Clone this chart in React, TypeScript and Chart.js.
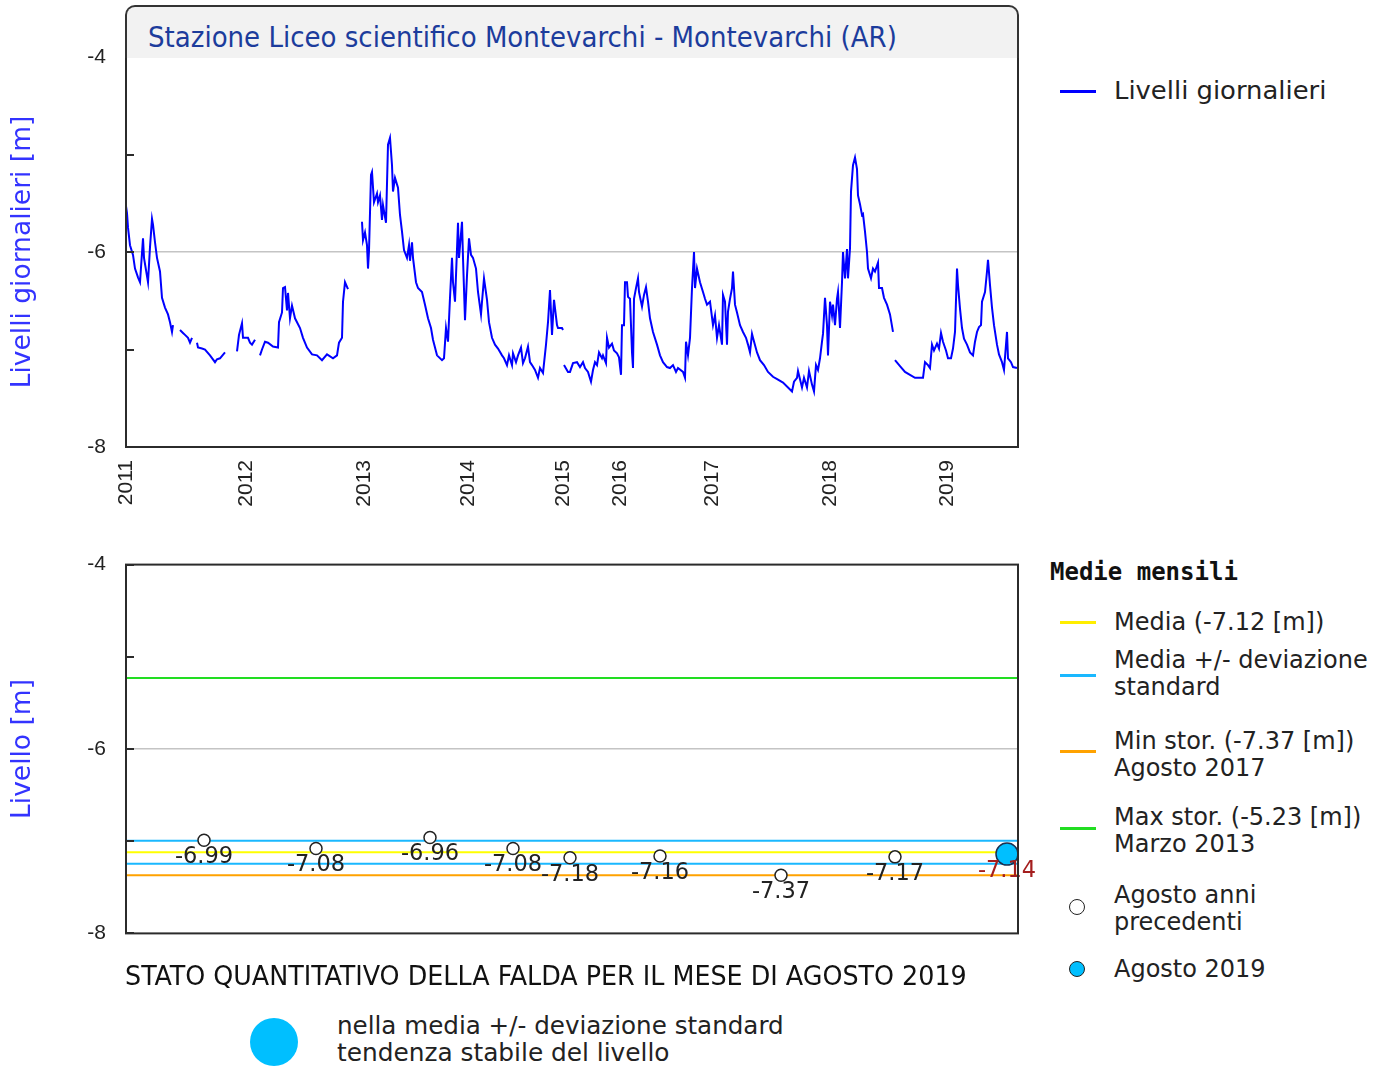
import React, { useEffect, useLayoutEffect, useRef, useState } from 'react';
import { Chart, registerables } from 'chart.js';

Chart.register(...registerables);

type Pair = [number, number];

// ---------- DATA ----------
const stationTitle = 'Stazione Liceo scientifico Montevarchi - Montevarchi (AR)';
const captionTitle = 'STATO QUANTITATIVO DELLA FALDA PER IL MESE DI AGOSTO 2019';
const statusLine1 = 'nella media +/- deviazione standard';
const statusLine2 = 'tendenza stabile del livello';

const yearLabels = ['2011', '2012', '2013', '2014', '2015', '2016', '2017', '2018', '2019'];
const yearTickIndex = [0, 120, 238, 342, 437, 494, 586, 704, 821];
const levelTicks = [-8, -7, -6, -5, -4];
const levelMin = -8;
const levelMax = -4;
const indexMax = 892;

// daily levels: [sample index, level m]
const run2011a: Pair[] = [[0,-5.53],[1,-5.60],[2,-5.75],[4,-5.93],[7,-6.03],[9,-6.17],[12,-6.26],[14,-6.31],[17,-5.86],[18,-6.06],[22,-6.31],[24,-5.95],[26,-5.66],[27,-5.72],[29,-5.90],[31,-6.06],[34,-6.20],[36,-6.47],[39,-6.57],[42,-6.64],[44,-6.72],[46,-6.82],[47,-6.75]];
const run2011b: Pair[] = [[54,-6.80],[57,-6.83],[59,-6.85],[62,-6.88],[64,-6.93],[66,-6.88]];
const run2011c: Pair[] = [[71,-6.93],[72,-6.98],[76,-6.99],[79,-7.00],[84,-7.06],[89,-7.13],[91,-7.10],[94,-7.09],[99,-7.03]];
const run2012a: Pair[] = [[111,-7.02],[113,-6.85],[116,-6.73],[117,-6.88],[122,-6.88],[124,-6.93],[126,-6.95],[129,-6.90]];
const run2012b: Pair[] = [[134,-7.06],[136,-7.00],[139,-6.92],[142,-6.93],[147,-6.97],[152,-6.98],[153,-6.72],[156,-6.62],[157,-6.37],[159,-6.36],[161,-6.60],[162,-6.42],[164,-6.68],[166,-6.55],[169,-6.68],[174,-6.78],[177,-6.88],[181,-6.98],[186,-7.05],[191,-7.06],[196,-7.11],[201,-7.05],[207,-7.09],[211,-7.06],[213,-6.93],[216,-6.88],[217,-6.51],[219,-6.31],[222,-6.38]];
const run2013: Pair[] = [[236,-5.69],[237,-5.88],[239,-5.80],[241,-5.93],[242,-6.17],[243,-5.99],[245,-5.21],[246,-5.18],[248,-5.49],[251,-5.40],[252,-5.49],[254,-5.42],[256,-5.67],[257,-5.52],[260,-5.70],[262,-4.90],[264,-4.83],[266,-5.11],[267,-5.38],[269,-5.24],[272,-5.34],[274,-5.62],[276,-5.79],[278,-5.98],[281,-6.06],[283,-5.93],[284,-6.09],[286,-5.90],[287,-6.06],[290,-6.31],[292,-6.37],[296,-6.41],[299,-6.54],[302,-6.68],[305,-6.78],[307,-6.90],[311,-7.06],[316,-7.11],[318,-7.09],[320,-6.78],[322,-6.92],[324,-6.47],[326,-6.06],[327,-6.31],[329,-6.51]];
const run2014: Pair[] = [[332,-5.70],[333,-6.06],[336,-5.69],[337,-6.06],[339,-6.70],[341,-6.24],[343,-5.86],[345,-6.03],[347,-6.06],[350,-6.17],[352,-6.41],[355,-6.64],[356,-6.51],[358,-6.27],[361,-6.49],[363,-6.72],[366,-6.88],[369,-6.95],[372,-6.99],[376,-7.06],[378,-7.09],[381,-7.16],[383,-7.06],[386,-7.16],[387,-7.04],[390,-7.13],[392,-7.06],[395,-6.98],[397,-7.14],[399,-7.09],[402,-6.97],[404,-7.13],[406,-7.16],[409,-7.21],[412,-7.29],[414,-7.19],[417,-7.24],[420,-6.95],[422,-6.72],[424,-6.39],[426,-6.85],[428,-6.49],[431,-6.75],[432,-6.78],[436,-6.78],[437,-6.80]];
const run2015: Pair[] = [[438,-7.16],[442,-7.23],[444,-7.23],[447,-7.14],[451,-7.13],[454,-7.18],[457,-7.13],[459,-7.19],[462,-7.23],[465,-7.33],[467,-7.21],[469,-7.13],[471,-7.16],[473,-7.03],[476,-7.09],[477,-7.06],[480,-7.14],[481,-6.88],[483,-6.98],[486,-6.94],[488,-7.01],[491,-7.04],[493,-7.08]];
const run2016: Pair[] = [[495,-7.26],[496,-6.75],[498,-6.75],[499,-6.31],[501,-6.31],[502,-6.46],[504,-6.48],[506,-7.03],[507,-7.19],[508,-6.48],[510,-6.37],[512,-6.27],[513,-6.41],[516,-6.56],[518,-6.44],[520,-6.36],[522,-6.51],[524,-6.68],[527,-6.82],[531,-6.95],[534,-7.06],[537,-7.13],[541,-7.18],[544,-7.19],[547,-7.16],[550,-7.23],[552,-7.19],[557,-7.23],[559,-7.29]];
const run2017: Pair[] = [[560,-6.92],[562,-7.06],[564,-6.88],[566,-6.37],[568,-6.00],[569,-6.37],[571,-6.17],[574,-6.31],[577,-6.41],[579,-6.48],[581,-6.54],[584,-6.51],[587,-6.75],[589,-6.65],[591,-6.88],[593,-6.75],[596,-6.95],[597,-6.44],[599,-6.51],[601,-6.95],[602,-6.61],[604,-6.48],[606,-6.37],[607,-6.20],[609,-6.54],[611,-6.62],[614,-6.75],[617,-6.82],[620,-6.88],[622,-6.95],[624,-7.03],[626,-6.84],[627,-6.88],[631,-7.03],[634,-7.11],[638,-7.16],[642,-7.23],[647,-7.28],[652,-7.31],[657,-7.34],[662,-7.39],[666,-7.43],[668,-7.33],[671,-7.29],[672,-7.22],[676,-7.39],[678,-7.29],[681,-7.39],[683,-7.22],[686,-7.36],[688,-7.43]];
const run2018: Pair[] = [[690,-7.16],[692,-7.21],[694,-7.09],[696,-6.92],[697,-6.84],[699,-6.47],[701,-6.75],[702,-7.06],[704,-6.51],[706,-6.65],[707,-6.54],[709,-6.75],[711,-6.48],[712,-6.41],[714,-6.78],[716,-6.31],[717,-6.00],[719,-6.27],[721,-5.97],[722,-6.27],[724,-5.96],[725,-5.38],[727,-5.11],[729,-5.03],[731,-5.15],[732,-5.42],[734,-5.51],[736,-5.62],[737,-5.61],[739,-5.79],[741,-6.00],[742,-6.17],[745,-6.27],[747,-6.17],[749,-6.20],[752,-6.11],[753,-6.37],[756,-6.37],[758,-6.47],[761,-6.54],[764,-6.64],[767,-6.82]];
const run2019: Pair[] = [[769,-7.11],[774,-7.17],[779,-7.23],[784,-7.26],[789,-7.29],[797,-7.29],[799,-7.13],[802,-7.16],[804,-7.19],[806,-6.95],[808,-7.01],[811,-6.94],[813,-6.99],[815,-6.83],[817,-6.92],[820,-7.01],[822,-7.09],[825,-7.09],[827,-6.99],[829,-6.82],[831,-6.17],[832,-6.34],[834,-6.58],[836,-6.78],[838,-6.89],[841,-6.95],[844,-7.03],[847,-7.06],[849,-6.92],[851,-6.82],[853,-6.77],[855,-6.75],[856,-6.51],[859,-6.41],[861,-6.20],[862,-6.08],[864,-6.34],[866,-6.57],[868,-6.75],[871,-6.95],[873,-7.05],[876,-7.13],[878,-7.21],[881,-6.82],[882,-7.09],[885,-7.13],[887,-7.18],[891,-7.19]];

// continuous runs (gaps between them)
const dailyRuns: Pair[][][] = [
  [run2011a], [run2011b], [run2011c], [run2012a], [run2012b],
  [run2013, run2014], [run2015, run2016, run2017, run2018], [run2019],
];

// monthly (August) statistics
const prevAugustIndex = [78, 190, 304, 387, 444, 534, 655, 769];
const prevAugustLevel = [-6.99, -7.08, -6.96, -7.08, -7.18, -7.16, -7.37, -7.17];
const currentAugustIndex = [881];
const currentAugustLevel = [-7.14];
const meanLevel = -7.12;
const stdDevLevel = 0.125;
const minLevel = -7.37;
const maxLevel = -5.23;

// ---------- HELPERS ----------
function buildDailySeries() {
  const out: { x: number; y: number | null }[] = [];
  dailyRuns.forEach((parts, ri) => {
    const pts = ([] as Pair[]).concat(...parts);
    if (ri > 0 && out.length) {
      const lastX = out[out.length - 1].x;
      out.push({ x: (lastX + pts[0][0]) / 2, y: null });
    }
    pts.forEach(([x, y]) => out.push({ x, y }));
  });
  return out;
}

const tickFont = { family: '"Liberation Sans", Arial, sans-serif', size: 21 };
const axisTitleFont = { family: '"DejaVu Sans", Verdana, sans-serif', size: 26.5 };

const framePlugin = {
  id: 'frameTicks',
  afterDraw(chart: any) {
    const { ctx, chartArea: a, scales } = chart;
    const ys = scales.y;
    ctx.save();
    ctx.strokeStyle = '#2b2b2b';
    ctx.lineWidth = 2;
    ctx.strokeRect(a.left, a.top, a.right - a.left, a.bottom - a.top);
    levelTicks.forEach((v) => {
      const py = Math.round(ys.getPixelForValue(v));
      ctx.beginPath();
      ctx.moveTo(a.left, py);
      ctx.lineTo(a.left + 8, py);
      ctx.stroke();
    });
    ctx.restore();
  },
};

const pointLabelPlugin = {
  id: 'pointLabels',
  afterDatasetsDraw(chart: any) {
    const { ctx } = chart;
    ctx.save();
    ctx.font = '22.5px "DejaVu Sans", Verdana, sans-serif';
    ctx.textAlign = 'center';
    ctx.textBaseline = 'middle';
    chart.data.datasets.forEach((ds: any, di: number) => {
      if (!ds.labelColor) return;
      const meta = chart.getDatasetMeta(di);
      meta.data.forEach((el: any, i: number) => {
        ctx.fillStyle = ds.labelColor;
        ctx.fillText(ds.data[i].y.toFixed(2), el.x, el.y + 17);
      });
    });
    ctx.restore();
  },
};

function yScale(title: string) {
  return {
    type: 'linear' as const,
    min: levelMin,
    max: levelMax,
    afterBuildTicks: (s: any) => {
      s.ticks = levelTicks.map((v) => ({ value: v }));
    },
    afterFit: (s: any) => {
      s.width = 126;
    },
    grid: {
      color: (c: any) => (c.tick && c.tick.value === -6 ? '#c4c4c4' : 'rgba(0,0,0,0)'),
      lineWidth: 1.5,
      drawTicks: false,
    },
    border: { display: false },
    ticks: {
      padding: 20,
      color: '#222',
      font: tickFont,
      callback: (v: any) => (Number(v) % 2 === 0 ? String(v) : ''),
    },
    title: {
      display: true,
      text: title,
      color: '#3333ff',
      font: axisTitleFont,
      padding: { top: 7, bottom: 0 },
    },
  };
}

function TopChart() {
  const ref = useRef<HTMLCanvasElement>(null);
  useEffect(() => {
    const chart = new Chart(ref.current as HTMLCanvasElement, {
      type: 'line',
      data: {
        datasets: [
          {
            label: 'Livelli giornalieri',
            data: buildDailySeries() as any,
            borderColor: '#0000ff',
            borderWidth: 2,
            pointRadius: 0,
            spanGaps: false,
            tension: 0,
          },
        ],
      },
      options: {
        animation: false,
        responsive: false,
        devicePixelRatio: 1,
        layout: { padding: { left: 0, top: 57, right: 22, bottom: 3 } },
        plugins: { legend: { display: false }, tooltip: { enabled: false } },
        scales: {
          x: {
            type: 'linear',
            min: 0,
            max: indexMax,
            afterBuildTicks: (s: any) => {
              s.ticks = yearTickIndex.map((v) => ({ value: v }));
            },
            afterFit: (s: any) => {
              s.height = 80;
            },
            grid: { display: false },
            border: { display: false },
            ticks: {
              autoSkip: false,
              minRotation: 90,
              maxRotation: 90,
              padding: 5,
              color: '#222',
              font: tickFont,
              callback: (_v: any, i: number) => yearLabels[i],
            },
          },
          y: yScale('Livelli giornalieri [m]') as any,
        },
      },
      plugins: [framePlugin],
    });
    return () => chart.destroy();
  }, []);
  return <canvas ref={ref} width={1040} height={530} style={{ position: 'absolute', left: 0, top: 0 }} />;
}

function hline(level: number, color: string) {
  return {
    type: 'line' as const,
    data: [
      { x: 0, y: level },
      { x: indexMax, y: level },
    ],
    borderColor: color,
    borderWidth: 2,
    pointRadius: 0,
    order: 2,
  };
}

function BottomChart() {
  const ref = useRef<HTMLCanvasElement>(null);
  useEffect(() => {
    const chart = new Chart(ref.current as HTMLCanvasElement, {
      type: 'line',
      data: {
        datasets: [
          {
            data: currentAugustIndex.map((x, i) => ({ x, y: currentAugustLevel[i] })),
            showLine: false,
            pointRadius: 11,
            pointBackgroundColor: '#00bfff',
            pointBorderColor: '#1b3050',
            pointBorderWidth: 1.5,
            clip: false,
            order: 0,
            labelColor: '#a41e1e',
          } as any,
          {
            data: prevAugustIndex.map((x, i) => ({ x, y: prevAugustLevel[i] })),
            showLine: false,
            pointRadius: 6,
            pointBackgroundColor: '#ffffff',
            pointBorderColor: '#222',
            pointBorderWidth: 1.5,
            clip: false,
            order: 1,
            labelColor: '#222',
          } as any,
          hline(maxLevel, '#22dd22'),
          hline(meanLevel + stdDevLevel, '#1ab8ff'),
          hline(meanLevel, '#ffff00'),
          hline(meanLevel - stdDevLevel, '#1ab8ff'),
          hline(minLevel, '#ffa200'),
        ],
      },
      options: {
        animation: false,
        responsive: false,
        devicePixelRatio: 1,
        layout: { padding: { left: 0, top: 32, right: 22, bottom: 32 } },
        plugins: { legend: { display: false }, tooltip: { enabled: false } },
        scales: {
          x: { type: 'linear', min: 0, max: indexMax, display: false },
          y: yScale('Livello [m]') as any,
        },
      },
      plugins: [pointLabelPlugin, framePlugin],
    });
    return () => chart.destroy();
  }, []);
  return <canvas ref={ref} width={1040} height={434} style={{ position: 'absolute', left: 0, top: 532 }} />;
}

function FitText(props: {
  text: string;
  width: number;
  left: number;
  top: number;
  height: number;
  size: number;
  family: string;
  color: string;
}) {
  const ref = useRef<HTMLSpanElement>(null);
  const [sx, setSx] = useState(1);
  useLayoutEffect(() => {
    const el = ref.current;
    if (el && el.offsetWidth > 0) setSx(props.width / el.offsetWidth);
  }, [props.text, props.width]);
  return (
    <div
      style={{
        position: 'absolute',
        left: props.left,
        top: props.top,
        height: props.height,
        lineHeight: `${props.height}px`,
        whiteSpace: 'nowrap',
      }}
    >
      <span
        ref={ref}
        style={{
          display: 'inline-block',
          fontFamily: props.family,
          fontSize: props.size,
          color: props.color,
          transform: `scaleX(${sx})`,
          transformOrigin: '0 50%',
        }}
      >
        {props.text}
      </span>
    </div>
  );
}

const legendFamily = '"DejaVu Sans", Verdana, sans-serif';
const narrowFamily = '"DejaVu Sans Condensed", "Liberation Sans Narrow", "DejaVu Sans", sans-serif';

function LegendText({ lines, top }: { lines: string[]; top: number }) {
  return (
    <div
      style={{
        position: 'absolute',
        left: 1114,
        top,
        fontFamily: legendFamily,
        fontSize: 24,
        lineHeight: '27px',
        color: '#222',
        whiteSpace: 'nowrap',
      }}
    >
      {lines.map((l, i) => (
        <div key={i}>{l}</div>
      ))}
    </div>
  );
}

function LegendLine({ y, color }: { y: number; color: string }) {
  return <div style={{ position: 'absolute', left: 1060, top: y - 1.5, width: 36, height: 3, background: color }} />;
}

function LegendDot({ y, fill, r }: { y: number; fill: string; r: number }) {
  return (
    <div
      style={{
        position: 'absolute',
        left: 1077 - r,
        top: y - r,
        width: r * 2,
        height: r * 2,
        boxSizing: 'border-box',
        borderRadius: '50%',
        border: '1.5px solid #222',
        background: fill,
      }}
    />
  );
}

export default function App() {
  return (
    <div
      style={{
        position: 'absolute',
        left: 0,
        top: 0,
        width: 1392,
        height: 1068,
        background: '#ffffff',
        overflow: 'hidden',
        fontFamily: legendFamily,
      }}
    >
      <TopChart />
      <BottomChart />

      {/* title box */}
      <div
        style={{
          position: 'absolute',
          left: 125,
          top: 5,
          width: 894,
          height: 53,
          boxSizing: 'border-box',
          border: '2px solid #333',
          borderBottom: 'none',
          borderRadius: '10px 10px 0 0',
          background: '#f2f2f2',
        }}
      />
      <FitText text={stationTitle} width={749} left={148} top={22} height={32} size={28} family={narrowFamily} color="#1c3c9c" />

      {/* top legend */}
      <LegendLine y={91} color="#0000ff" />
      <FitText text="Livelli giornalieri" width={212} left={1114} top={77} height={28} size={24.5} family={legendFamily} color="#222" />

      {/* bottom legend */}
      <div
        style={{
          position: 'absolute',
          left: 1050,
          top: 558,
          lineHeight: '28px',
          fontFamily: '"DejaVu Sans Mono", "Liberation Mono", monospace',
          fontWeight: 'bold',
          fontSize: 24,
          color: '#111',
          whiteSpace: 'nowrap',
        }}
      >
        Medie mensili
      </div>
      <LegendLine y={622} color="#ffee00" />
      <LegendText lines={[`Media (${meanLevel.toFixed(2)} [m])`]} top={608.5} />
      <LegendLine y={675} color="#1ab8ff" />
      <LegendText lines={['Media +/- deviazione', 'standard']} top={646.5} />
      <LegendLine y={751} color="#ffa200" />
      <LegendText lines={[`Min stor. (${minLevel.toFixed(2)} [m])`, 'Agosto 2017']} top={727.5} />
      <LegendLine y={828} color="#22dd22" />
      <LegendText lines={[`Max stor. (${maxLevel.toFixed(2)} [m])`, 'Marzo 2013']} top={803.5} />
      <LegendDot y={907} fill="#ffffff" r={8} />
      <LegendText lines={['Agosto anni', 'precedenti']} top={881.5} />
      <LegendDot y={969} fill="#00bfff" r={8} />
      <LegendText lines={['Agosto 2019']} top={955.5} />

      {/* caption and status */}
      <FitText text={captionTitle} width={842} left={125} top={960} height={32} size={27} family={narrowFamily} color="#111" />
      <div
        style={{
          position: 'absolute',
          left: 250,
          top: 1018,
          width: 48,
          height: 48,
          borderRadius: '50%',
          background: '#00bfff',
        }}
      />
      <FitText text={statusLine1} width={447} left={337} top={1012} height={28} size={25} family={narrowFamily} color="#222" />
      <FitText text={statusLine2} width={333} left={337} top={1039} height={28} size={25} family={narrowFamily} color="#222" />
    </div>
  );
}
